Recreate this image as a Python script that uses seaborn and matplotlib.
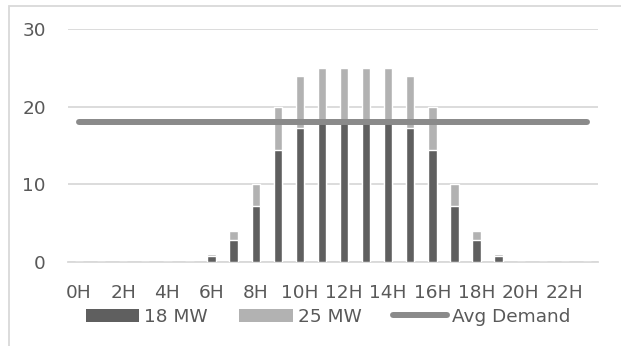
import matplotlib
matplotlib.use("Agg")
import matplotlib.pyplot as plt
import seaborn as sns
import pandas as pd
from matplotlib.patches import Patch, Rectangle
from matplotlib.lines import Line2D

hours = ["0H", "1H", "2H", "3H", "4H", "5H", "6H", "7H", "8H", "9H", "10H", "11H",
         "12H", "13H", "14H", "15H", "16H", "17H", "18H", "19H", "20H", "21H", "22H", "23H"]
mw18 = [0, 0, 0, 0, 0, 0, 0.72, 2.88, 7.2, 14.4, 17.28, 18, 18, 18, 18, 17.28, 14.4, 7.2, 2.88, 0.72, 0, 0, 0, 0]
mw25 = [0, 0, 0, 0, 0, 0, 1, 4, 10, 20, 24, 25, 25, 25, 25, 24, 20, 10, 4, 1, 0, 0, 0, 0]
avg_demand = [18, 18, 18, 18, 18, 18, 18, 18, 18, 18, 18, 18,
              18, 18, 18, 18, 18, 18, 18, 18, 18, 18, 18, 18]
y_ticks = [0, 10, 20, 30]

DARK = "#5f5f5f"
LIGHT = "#b2b2b2"
LINE = "#8a8a8a"
GRID = "#d9d9d9"
TEXT = "#595959"
FS = 13.3

sns.set_theme(style="white")
plt.rcParams["font.family"] = ["DejaVu Sans"]

df = pd.DataFrame({"hour": hours, "mw18": mw18, "mw25": mw25,
                   "idx": list(range(len(hours))), "avg": avg_demand})

W, H = 621, 346
fig = plt.figure(figsize=(W / 100, H / 100), dpi=100)
ax = fig.add_axes([68 / W, 1 - 262 / H, (598 - 68) / W, (262 - 29) / H])

sns.barplot(data=df, x="hour", y="mw25", color=LIGHT, width=0.38, saturation=1,
            ax=ax, zorder=2, order=hours)
sns.barplot(data=df, x="hour", y="mw18", color=DARK, width=0.38, saturation=1,
            ax=ax, zorder=3, order=hours)
sns.lineplot(data=df, x="idx", y="avg", color=LINE, linewidth=4.3, ax=ax, zorder=4,
             solid_capstyle="round")

ax.set_xlim(-0.5, 23.5)
ax.set_ylim(0, 30)
ax.set_yticks(y_ticks)
ax.set_xticks(range(0, 24, 2))
ax.set_xticklabels(hours[::2])
ax.set_xlabel("")
ax.set_ylabel("")
for s in ["top", "right", "left"]:
    ax.spines[s].set_visible(False)
ax.spines["bottom"].set_color(GRID)
ax.spines["bottom"].set_linewidth(1.3)
ax.yaxis.grid(True, color=GRID, linewidth=1.3, zorder=0)
ax.set_axisbelow(True)
ax.tick_params(axis="y", length=0, pad=16, labelsize=FS, labelcolor=TEXT)
ax.tick_params(axis="x", length=0, pad=16, labelsize=FS, labelcolor=TEXT)

handles = [Patch(facecolor=DARK, edgecolor="none", label="18 MW"),
           Patch(facecolor=LIGHT, edgecolor="none", label="25 MW"),
           Line2D([0], [0], color=LINE, linewidth=4.3, solid_capstyle="round", label="Avg Demand")]
fig.legend(handles=handles, loc="center", bbox_to_anchor=(328 / W, 1 - 317 / H),
           ncol=3, frameon=False, fontsize=FS, labelcolor=TEXT,
           handlelength=2.9, handleheight=0.75, handletextpad=0.28,
           columnspacing=1.7, borderpad=0, borderaxespad=0)

fig.patches.append(Rectangle((8.5 / W, -0.1), 1.2, 1.1 - 6.5 / H, transform=fig.transFigure,
                             fill=False, edgecolor=GRID, linewidth=1.3))

fig.savefig("out.png", dpi=100)
